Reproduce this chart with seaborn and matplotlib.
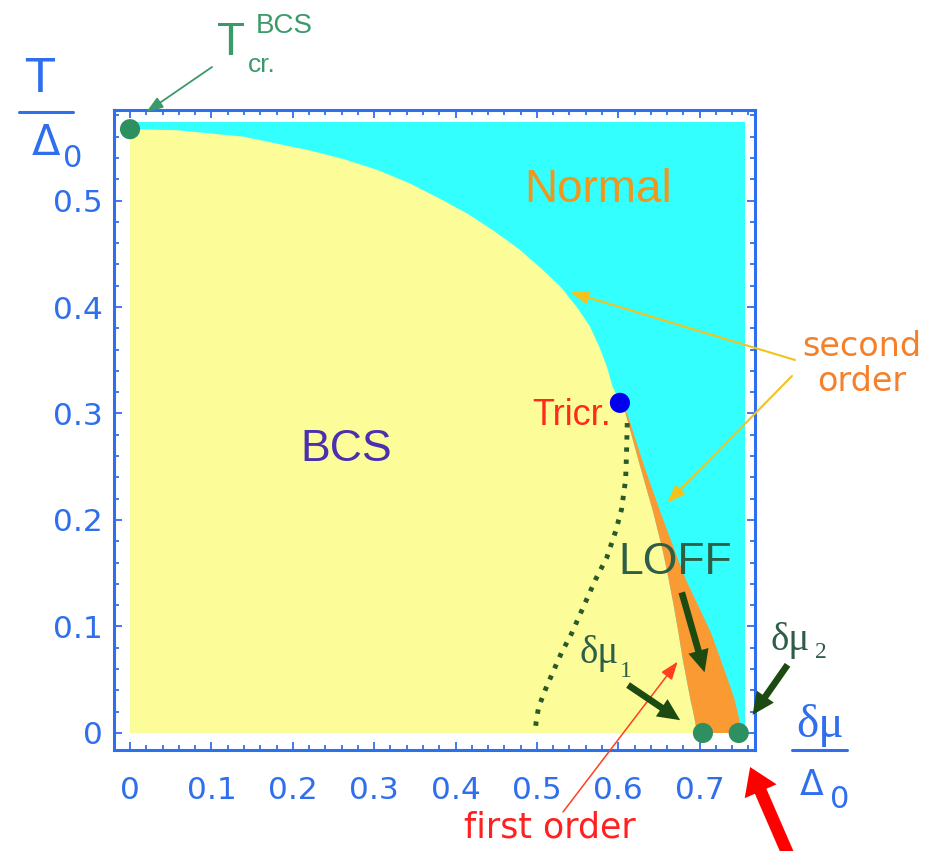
import numpy as np
import pandas as pd
import seaborn as sns
import matplotlib.pyplot as plt
from matplotlib.lines import Line2D
from matplotlib.ticker import MultipleLocator

# phase boundaries: x = delta mu / Delta0, y = T / Delta0
bcs_dmu = [0.0, 0.058, 0.139, 0.221, 0.262, 0.303, 0.344, 0.385, 0.416, 0.446,
           0.477, 0.507, 0.529, 0.549, 0.565, 0.577, 0.586, 0.593, 0.599, 0.602]
bcs_T = [0.567, 0.566, 0.560, 0.547, 0.539, 0.529, 0.516, 0.500, 0.487, 0.472,
         0.455, 0.435, 0.419, 0.400, 0.382, 0.362, 0.344, 0.325, 0.316, 0.310]

# first order line (BCS | LOFF), tricritical point down to dmu1
first_dmu = [0.602, 0.609, 0.627, 0.643, 0.655, 0.662, 0.668, 0.674, 0.679,
             0.684, 0.689, 0.692, 0.697]
first_T = [0.310, 0.300, 0.250, 0.207, 0.170, 0.144, 0.120, 0.094, 0.070,
           0.050, 0.030, 0.020, 0.0]

# second order line (LOFF | normal), tricritical point down to dmu2
second_dmu = [0.602, 0.611, 0.632, 0.652, 0.670, 0.683, 0.698, 0.714, 0.723,
              0.729, 0.737, 0.743, 0.748, 0.752]
second_T = [0.310, 0.300, 0.250, 0.207, 0.170, 0.144, 0.120, 0.094, 0.075,
            0.062, 0.045, 0.031, 0.015, 0.0]

# dotted line inside the BCS region
dotted_dmu = [0.611, 0.610, 0.609, 0.604, 0.597, 0.586, 0.572, 0.558, 0.543,
              0.530, 0.519, 0.510, 0.502, 0.499, 0.498]
dotted_T = [0.291, 0.260, 0.238, 0.210, 0.190, 0.165, 0.144, 0.120, 0.094,
            0.075, 0.056, 0.040, 0.024, 0.010, 0.003]

# normal region extent
normal_dmu_max = 0.756
normal_T_max = 0.574

# special points
point_kind = ["Tcr", "tricr", "dmu1", "dmu2"]
point_dmu = [0.0, 0.602, 0.704, 0.748]
point_T = [0.567, 0.310, 0.0, 0.0]

x_ticks = [0, 0.1, 0.2, 0.3, 0.4, 0.5, 0.6, 0.7]
x_tick_labels = ["0", "0.1", "0.2", "0.3", "0.4", "0.5", "0.6", "0.7"]
y_ticks = [0, 0.1, 0.2, 0.3, 0.4, 0.5]
y_tick_labels = ["0", "0.1", "0.2", "0.3", "0.4", "0.5"]

#########################################

W, H = 927, 851
blue = "#2f6fee"
cyan = "#33ffff"
yellow = "#fcfc99"
orange = "#f99a33"
dot_green = "#2e8f60"
arrow_green = "#1d4a10"
text_green = "#2e5e48"


def fp(px, py):
    # pixel position on the picture -> figure fraction
    return (px / W, 1 - py / H)


sns.set_theme(style="ticks")
plt.rcParams["font.family"] = ["DejaVu Sans"]

fig = plt.figure(figsize=(W / 100, H / 100), dpi=100)
ax = fig.add_axes([114 / W, 1 - 750 / H, 641 / W, 640 / H])
ax.set_facecolor("white")

# regions
ax.fill([0, normal_dmu_max, normal_dmu_max, 0], [0, 0, normal_T_max, normal_T_max],
        color=cyan, lw=0, zorder=1)
ax.fill(bcs_dmu + first_dmu[1:] + [0], bcs_T + first_T[1:] + [0],
        color=yellow, lw=0, zorder=2)
ax.fill(first_dmu + second_dmu[::-1], first_T + second_T[::-1],
        color=orange, lw=0, zorder=2)

sns.lineplot(x=dotted_dmu, y=dotted_T, sort=False, estimator=None, ax=ax,
             color="#2a5a2a", lw=3.5, linestyle=(0, (0.9, 1.6)), zorder=3)

pts = pd.DataFrame({"kind": point_kind, "dmu": point_dmu, "T": point_T})
sns.scatterplot(data=pts, x="dmu", y="T", hue="kind",
                palette={"Tcr": dot_green, "tricr": "#0000ee",
                         "dmu1": dot_green, "dmu2": dot_green},
                s=210, linewidth=0, legend=False, ax=ax, zorder=6, clip_on=False)

# axes styling
ax.set_xlim(-0.0197, 0.768)
ax.set_ylim(-0.016, 0.585)
ax.set_xticks(x_ticks)
ax.set_xticklabels(x_tick_labels)
ax.set_yticks(y_ticks)
ax.set_yticklabels(y_tick_labels)
ax.xaxis.set_minor_locator(MultipleLocator(0.02))
ax.yaxis.set_minor_locator(MultipleLocator(0.02))
ax.tick_params(which="both", direction="in", top=True, right=True,
               color=blue, width=1.3)
ax.tick_params(which="major", length=6, labelsize=22.5, labelcolor=blue)
ax.tick_params(which="minor", length=3.5)
ax.tick_params(axis="x", pad=19)
ax.tick_params(axis="y", pad=8)
ax.set_xlabel("")
ax.set_ylabel("")
for s in ax.spines.values():
    s.set_color(blue)
    s.set_linewidth(2.2)

# axis labels as fractions
fig.text(*fp(40, 92), "T", color=blue, fontsize=34, ha="center", va="baseline")
fig.add_artist(Line2D([19 / W, 73 / W], [1 - 112 / H] * 2, color=blue, lw=2.2,
                      transform=fig.transFigure))
fig.text(*fp(46, 155), "Δ", color=blue, fontsize=30, ha="center", va="baseline")
fig.text(*fp(73, 167), "0", color=blue, fontsize=22, ha="center", va="baseline")

fig.text(*fp(820, 737), "δμ", color=blue, fontsize=34, ha="center", va="baseline",
         family="Liberation Serif")
fig.add_artist(Line2D([792 / W, 847 / W], [1 - 750 / H] * 2, color=blue, lw=2.2,
                      transform=fig.transFigure))
fig.text(*fp(812, 795), "Δ", color=blue, fontsize=25, ha="center", va="baseline")
fig.text(*fp(840, 808), "0", color=blue, fontsize=22, ha="center", va="baseline")

# T_cr^BCS label
tc_green = "#3c9a6a"
fig.text(*fp(231, 55), "T", color=tc_green, fontsize=33, ha="center", va="baseline",
         family="Liberation Sans")
fig.text(*fp(262, 72), "cr.", color=tc_green, fontsize=19, ha="center", va="baseline",
         family="Liberation Sans")
fig.text(*fp(284, 33), "BCS", color=tc_green, fontsize=20, ha="center", va="baseline",
         family="Liberation Sans")
ax.annotate("", xy=(0.020, 0.583), xytext=fp(212, 67), textcoords="figure fraction",
            arrowprops=dict(arrowstyle="-|>,head_length=0.5,head_width=0.18",
                            color=tc_green, lw=1.3, mutation_scale=20,
                            shrinkA=0, shrinkB=0),
            annotation_clip=False)

# region labels
ax.text(0.575, 0.510, "Normal", color="#f0961c", fontsize=33, ha="center", va="center",
        family="Liberation Sans", zorder=7)
ax.text(0.266, 0.266, "BCS", color="#4a30b0", fontsize=32, ha="center", va="center",
        family="Liberation Sans", zorder=7)
ax.text(0.591, 0.298, "Tricr.", color="#ff2a1a", fontsize=26, ha="right", va="center",
        family="Liberation Sans", zorder=7)
ax.text(0.670, 0.160, "LOFF", color=text_green, fontsize=32, ha="center", va="center",
        family="Liberation Sans", zorder=7)

# delta mu labels
fig.text(*fp(599, 663), "δμ", color=text_green, fontsize=28, ha="center", va="baseline",
         family="Liberation Serif")
fig.text(*fp(626, 677), "1", color=text_green, fontsize=17, ha="center", va="baseline",
         family="Liberation Serif")
fig.text(*fp(790, 650), "δμ", color=text_green, fontsize=28, ha="center", va="baseline",
         family="Liberation Serif")
fig.text(*fp(821, 658), "2", color=text_green, fontsize=17, ha="center", va="baseline",
         family="Liberation Serif")

thick = dict(arrowstyle="simple,head_length=0.8,head_width=0.75,tail_width=0.24",
             fc=arrow_green, ec=arrow_green, lw=0, mutation_scale=20,
             shrinkA=0, shrinkB=0)
ax.annotate("", xy=(0.706, 0.057), xytext=(0.678, 0.132), arrowprops=thick,
            annotation_clip=False, zorder=8)
ax.annotate("", xy=(0.676, 0.012), xytext=(0.612, 0.045), arrowprops=thick,
            annotation_clip=False, zorder=8)
ax.annotate("", xy=(0.765, 0.017), xytext=(0.808, 0.064), arrowprops=thick,
            annotation_clip=False, zorder=8)

# second order
fig.text(*fp(862, 364), "second\norder", color="#f6802a", fontsize=24, ha="center",
         va="center", linespacing=1.05)
thin_yellow = dict(arrowstyle="-|>,head_length=0.55,head_width=0.2", color="#f3c21c",
                   lw=1.5, mutation_scale=20, shrinkA=0, shrinkB=0)
ax.annotate("", xy=(0.541, 0.414), xytext=fp(795, 360), textcoords="figure fraction",
            arrowprops=thin_yellow, annotation_clip=False)
ax.annotate("", xy=(0.660, 0.216), xytext=fp(792, 376), textcoords="figure fraction",
            arrowprops=thin_yellow, annotation_clip=False)

# first order
fig.text(*fp(550, 827), "first order", color="#ff2020", fontsize=25, ha="center",
         va="center")
ax.annotate("", xy=(0.673, 0.067), xytext=fp(563, 812), textcoords="figure fraction",
            arrowprops=dict(arrowstyle="-|>,head_length=0.55,head_width=0.2",
                            color="#ff4020", lw=1.1, mutation_scale=20,
                            shrinkA=0, shrinkB=0),
            annotation_clip=False)

# big red arrow at the corner
ax.annotate("", xy=(0.762, -0.032), xytext=fp(797, 875), textcoords="figure fraction",
            arrowprops=dict(arrowstyle="simple,head_length=0.95,head_width=1.25,tail_width=0.45",
                            fc="#ff0000", ec="#ff0000", lw=0, mutation_scale=20,
                            shrinkA=0, shrinkB=0),
            annotation_clip=False)

plt.savefig("out.png", dpi=100)
